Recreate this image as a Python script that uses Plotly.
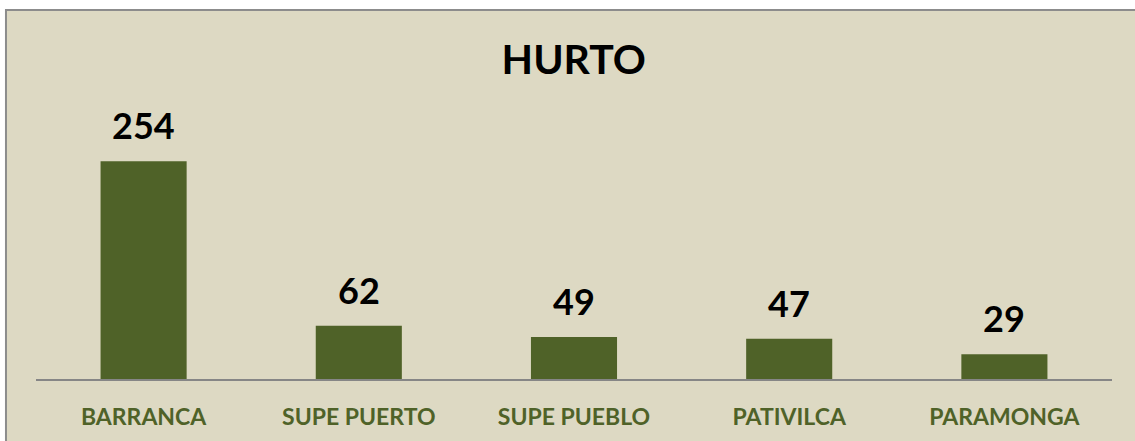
import plotly.graph_objects as go

# datos
distritos = ["BARRANCA", "SUPE PUERTO", "SUPE PUEBLO", "PATIVILCA", "PARAMONGA"]
casos = [254, 62, 49, 47, 29]

VERDE = "#4F6228"
FONDO = "#DDD9C3"
FUENTE = "Lato"

fig = go.Figure()
fig.add_trace(go.Bar(x=distritos, y=casos, marker=dict(color=VERDE, line=dict(width=0))))

# etiquetas de valor sobre cada barra
for d, v in zip(distritos, casos):
    fig.add_annotation(
        x=d, y=v, text="<b>%d</b>" % v, showarrow=False,
        yanchor="bottom", yshift=12,
        font=dict(family=FUENTE, size=36, color="black"),
    )

# recuadro de fondo
fig.add_shape(
    type="rect", xref="paper", yref="paper",
    x0=-0.0279, x1=1.05, y0=-0.4, y1=1.1567,
    fillcolor=FONDO, line=dict(color="#8C8C8C", width=2), layer="below",
)

fig.update_layout(
    width=1135, height=441,
    margin=dict(l=36, r=23, t=60, b=62),
    paper_bgcolor="white",
    plot_bgcolor="rgba(0,0,0,0)",
    showlegend=False,
    bargap=0.6,
    title=dict(
        text="<b>HURTO</b>", x=0.5055, xanchor="center",
        y=1 - 60 / 441, yanchor="middle",
        font=dict(family=FUENTE, size=41, color="black"),
    ),
)
fig.update_xaxes(
    showline=True, linecolor="#868686", linewidth=2,
    ticks="outside", ticklen=16, tickcolor="rgba(0,0,0,0)",
    tickfont=dict(family=FUENTE, size=23, color=VERDE, weight="bold"),
    showgrid=False,
)
fig.update_yaxes(visible=False, range=[0, 372], showgrid=False)

# quitar el margen del body para que el grafico empiece en 0,0
fig.write_html(
    "out.html",
    config={"displayModeBar": False},
    post_script="document.body.style.margin='0';",
)
